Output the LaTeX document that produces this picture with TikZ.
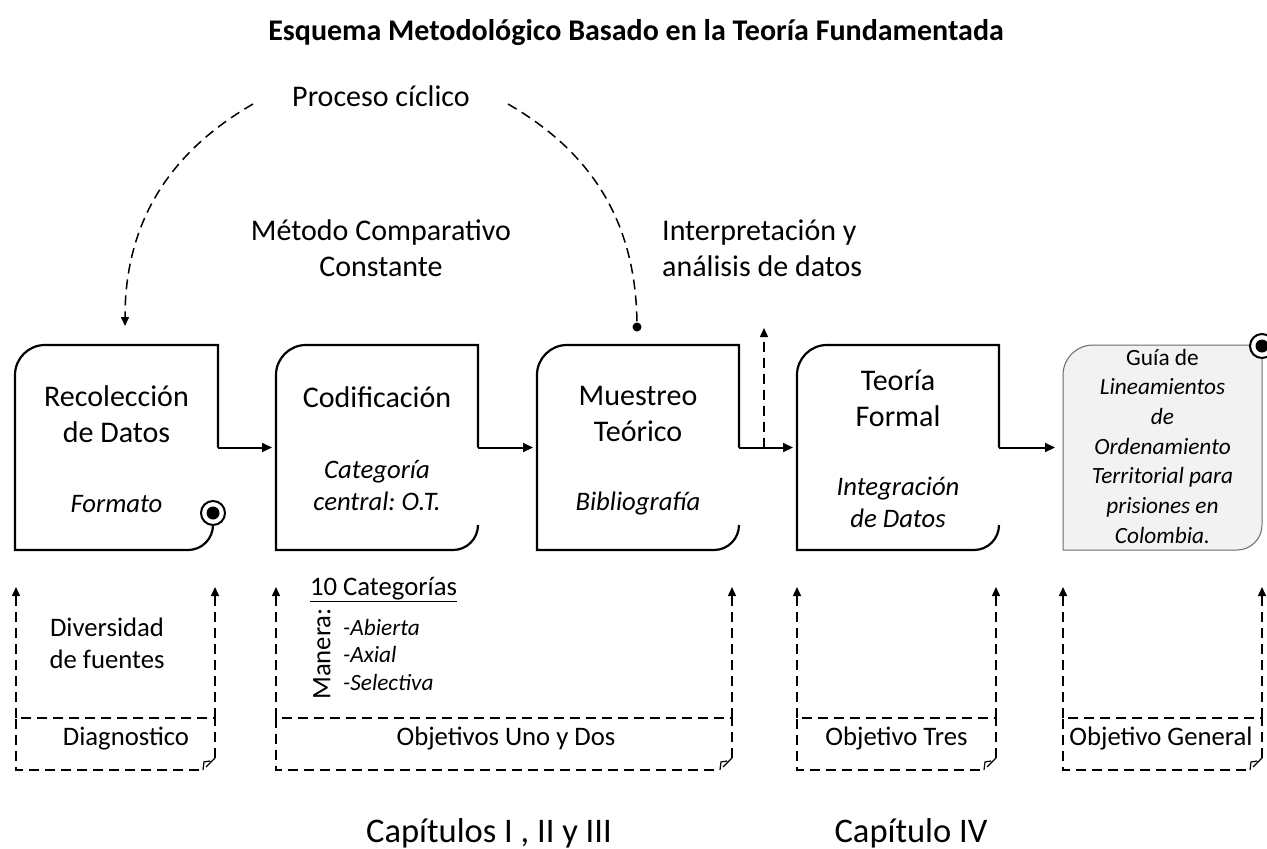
\documentclass[tikz,border=0pt]{standalone}
\usepackage{fontspec}
\setmainfont{Carlito}
\usetikzlibrary{arrows.meta,calc}
\frenchspacing
\definecolor{boxgray}{HTML}{F2F2F2}
\definecolor{edgegray}{HTML}{6A6A6A}
\newcommand\fbig{\fontsize{30}{36}\selectfont}
\newcommand\fmid{\fontsize{26.7}{32}\selectfont}
\newcommand\fsml{\fontsize{23.3}{29.7}\selectfont}
\newcommand\fchap{\fontsize{34.5}{40}\selectfont}
\newcommand\mlc[1]{\begin{tabular}[t]{@{}c@{}}#1\end{tabular}}
\newcommand\mll[1]{\begin{tabular}[t]{@{}l@{}}#1\end{tabular}}
\tikzset{
  boxline/.style={line width=2.2pt},
  arr/.style={line width=2pt, -{Triangle[length=10pt,width=9pt]}, shorten >=4pt},
  dsh/.style={line width=1.5pt, dash pattern=on 10pt off 6pt},
  darr/.style={dsh, -{Triangle[length=9pt,width=8pt]}},
  frame/.style={minimum width=#1, minimum height=205pt, inner sep=0pt, outer sep=0pt},
  oframe/.style={minimum width=#1, minimum height=52pt, inner sep=0pt, outer sep=0pt},
  txt/.style={anchor=base, inner sep=0pt},
  bull/.style={circle, draw, fill=white, line width=2pt, minimum size=24pt, inner sep=0pt},
}
\newcommand\docbox[1]{%
  \draw[boxline] (#1.east) -- (#1.north east) -- ([xshift=30pt]#1.north west)
    arc[start angle=90,end angle=180,radius=30pt] -- (#1.south west)
    -- ([xshift=-25pt]#1.south east) arc[start angle=-90,end angle=0,radius=25pt];}
\newcommand\foldbox[1]{%
  \draw[dsh] ([yshift=12pt]#1.south east) -- (#1.north east) -- (#1.north west)
    -- (#1.south west) -- ([xshift=-12pt]#1.south east);
  \draw[line width=1.2pt] ([xshift=-12pt]#1.south east) -- ([xshift=-11pt,yshift=8pt]#1.south east)
    -- ([xshift=-5pt,yshift=9pt]#1.south east)
    ([xshift=-9pt,yshift=3pt]#1.south east) -- ([yshift=12pt]#1.south east);}
\begin{document}
\begin{tikzpicture}[x=1pt,y=-1pt]
\useasboundingbox (0,0) rectangle (1267,849);

% title and upper labels
\node[txt, font=\bfseries\fbig] (title) at (636,40) {Esquema Metodológico Basado en la Teoría Fundamentada};
\node[txt, font=\fbig] (pc) at (381,106) {Proceso cíclico};
\node[txt, font=\fbig] (mcc) at (381,240) {\mlc{Método Comparativo\\Constante}};
\node[txt, font=\fbig, anchor=base west] (iad) at (662,240) {\mll{Interpretación y\\análisis de datos}};

% main boxes (frames)
\node[frame=203pt] (b1) at (116.5,447.5) {};
\node[frame=202pt] (b2) at (377,447.5) {};
\node[frame=202pt] (b3) at (638,447.5) {};
\node[frame=202pt] (b4) at (898,447.5) {};
\node[frame=199pt] (b5) at (1162.5,447.5) {};

% box 1 with curl and bullseye
\draw[boxline] (b1.east) -- (b1.north east) -- ([xshift=30pt]b1.north west)
  arc[start angle=90,end angle=180,radius=30pt] -- (b1.south west)
  -- ([xshift=-30pt]b1.south east) arc[start angle=-90,end angle=0,radius=25pt];
\node[bull] (c1) at (213,513) {};
\fill (c1.center) circle (6.5pt);

\docbox{b2}
\docbox{b3}
\docbox{b4}

% final box
\filldraw[fill=boxgray, draw=edgegray, line width=1pt] (b5.north east) -- ([xshift=30pt]b5.north west)
  arc[start angle=90,end angle=180,radius=30pt] -- (b5.south west)
  -- ([xshift=-25pt]b5.south east) arc[start angle=-90,end angle=0,radius=25pt] -- cycle;
\node[bull] (c5) at (1262,346) {};
\fill (c5.center) circle (6.5pt);

% box texts
\node[txt, font=\fbig] (t1) at (116.5,406) {\mlc{Recolección\\de Datos}};
\node[txt, font=\itshape\fmid] (s1) at (116.5,512) {Formato};
\node[txt, font=\fbig] (t2) at (377,407) {Codificación};
\node[txt, font=\itshape\fmid] (s2) at (377,478) {\mlc{Categoría\\central: O.T.}};
\node[txt, font=\fbig] (t3) at (638,405) {\mlc{Muestreo\\Teórico}};
\node[txt, font=\itshape\fmid] (s3) at (638,510) {Bibliografía};
\node[txt, font=\fbig] (t4) at (898,390) {\mlc{Teoría\\Formal}};
\node[txt, font=\itshape\fmid] (s4) at (898,495) {\mlc{Integración\\de Datos}};
\node[txt, font=\fsml] (t5) at (1162.5,365) {\mlc{Guía de\\\textit{Lineamientos}\\\textit{de}\\\textit{Ordenamiento}\\\textit{Territorial para}\\\textit{prisiones en}\\\textit{Colombia.}}};

% solid arrows between boxes
\draw[arr] (b1.east) -- (b2.west);
\draw[arr] (b2.east) -- (b3.west);
\draw[arr] (b3.east) -- (b4.west);
\draw[arr, shorten >=8pt] (b4.east) -- (b5.west);

% dashed arrow up between boxes 3 and 4
\coordinate (m34) at (764,447.5);
\coordinate (m34t) at (764,328);
\draw[darr] (m34) -- (m34t);

% cyclic arcs
\coordinate (cl) at (253,104);
\coordinate (cle) at (125,326);
\draw[darr] (cl) to[bend right=30] (cle);
\coordinate (cr) at (508,104);
\node[circle, fill, inner sep=0pt, minimum size=9pt] (dot) at (637,327) {};
\draw[dsh] (cr) to[bend left=30] (dot.center);

% lower dashed boxes
\node[oframe=199pt] (o1) at (115.5,744) {};
\node[oframe=456pt] (o2) at (504,744) {};
\node[oframe=199pt] (o3) at (896.5,744) {};
\node[oframe=199pt] (o4) at (1162.5,744) {};
\foldbox{o1}
\foldbox{o2}
\foldbox{o3}
\foldbox{o4}

\coordinate (u1a) at (16,587);   \coordinate (u1b) at (215,587);
\coordinate (u2a) at (276,587);  \coordinate (u2b) at (732,587);
\coordinate (u3a) at (797,587);  \coordinate (u3b) at (996,587);
\coordinate (u4a) at (1063,587); \coordinate (u4b) at (1262,587);
\draw[darr] (o1.north west) -- (u1a);
\draw[darr] (o1.north east) -- (u1b);
\draw[darr] (o2.north west) -- (u2a);
\draw[darr] (o2.north east) -- (u2b);
\draw[darr] (o3.north west) -- (u3a);
\draw[darr] (o3.north east) -- (u3b);
\draw[darr] (o4.north west) -- (u4a);
\draw[darr] (o4.north east) -- (u4b);

% lower texts
\node[txt, font=\fmid] (div) at (107,636) {\mlc{Diversidad\\de fuentes}};
\node[txt, font=\fmid] (cat) at (383.5,595) {\underline{10 Categorías}};
\node[font=\fmid, rotate=90, inner sep=0pt] (man) at (322,654) {Manera:};
\node[txt, font=\itshape\fontsize{23.3}{27.5}\selectfont, anchor=base west] (abi) at (343,635) {\mll{-Abierta\\-Axial\\-Selectiva}};

\node[txt, font=\fmid] (l1) at (126,745) {Diagnostico};
\node[txt, font=\fmid] (l2) at (506,745) {Objetivos Uno y Dos};
\node[txt, font=\fmid] (l3) at (896.5,745) {Objetivo Tres};
\node[txt, font=\fmid] (l4) at (1161,745) {Objetivo General};

\node[txt, font=\fchap] (cap1) at (489,842) {Capítulos I , II y III};
\node[txt, font=\fchap] (cap2) at (911,842) {Capítulo IV};
\end{tikzpicture}
\end{document}
